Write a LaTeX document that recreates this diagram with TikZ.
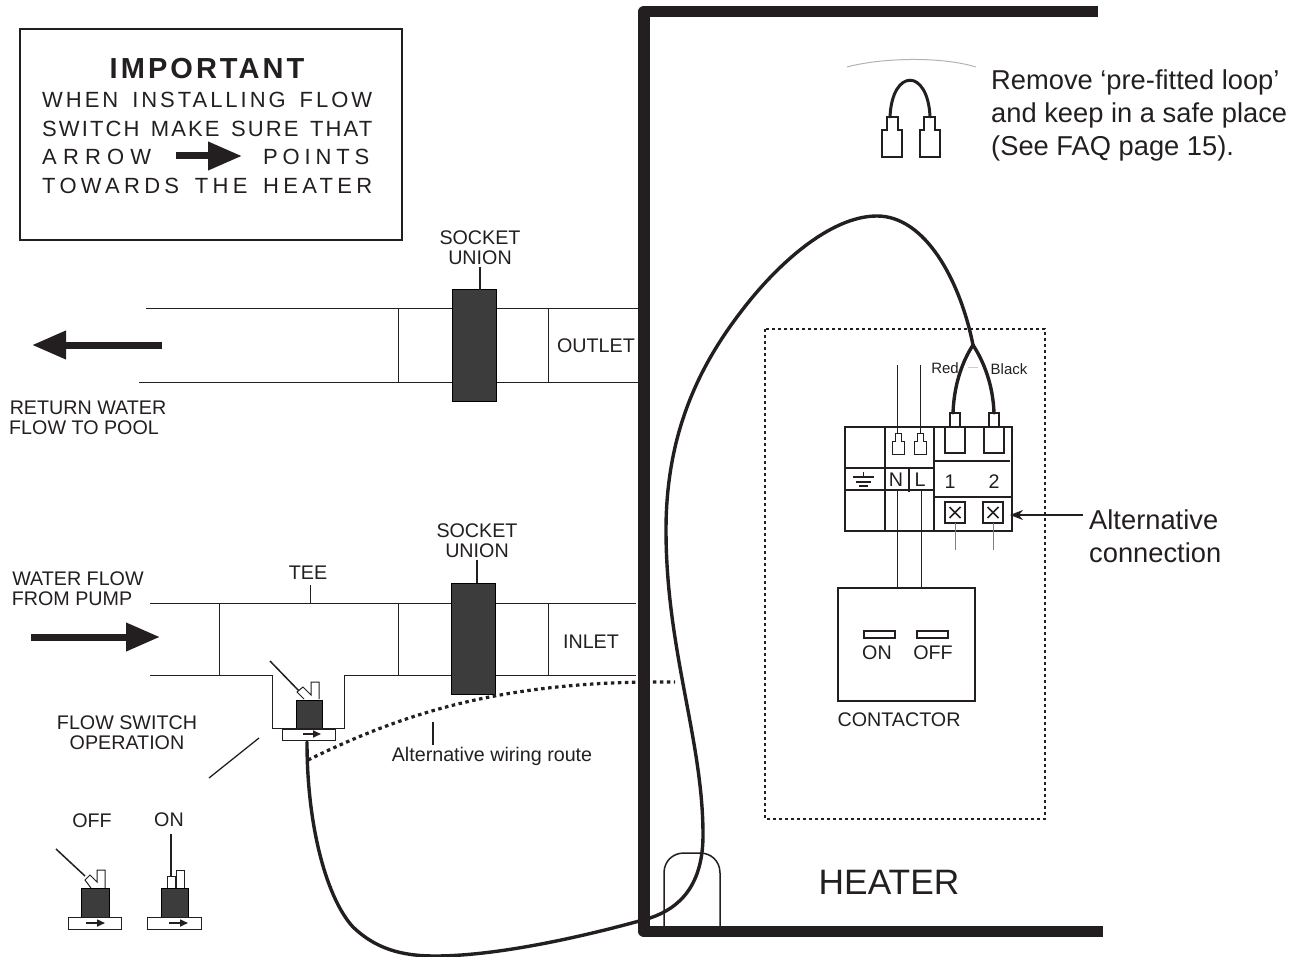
\documentclass[tikz,border=0pt]{standalone}
\usepackage{fontspec}
\setmainfont{Liberation Sans}
\newfontfamily\boldspaced[LetterSpace=10.5]{Liberation Sans Bold}
\usetikzlibrary{arrows.meta}
\definecolor{darkblock}{HTML}{3C3C3C}
\definecolor{inktext}{HTML}{231F20}
\tikzset{
    thinline/.style={draw=inktext, line width=1pt},
    boxline/.style={draw=inktext, line width=2pt},
    wallline/.style={draw=inktext, line width=11.5pt},
    wireline/.style={draw=inktext, line width=3.4pt, line cap=round},
    altwire/.style={draw=inktext, line width=3.2pt, dash pattern=on 3.5pt off 3.5pt},
    bigarrow/.style={draw=inktext, line width=7pt, -{Triangle[length=34pt,width=27pt]}},
    tinyarrow/.style={draw=inktext, line width=1.6pt, -{Triangle[length=8pt,width=7pt]}},
    dark/.style={fill=darkblock, draw=black, line width=1pt},
    label/.style={font=\fontsize{19.7}{20}\selectfont, text=inktext, inner sep=0pt, align=center, yshift=-0.7pt},
    smalllabel/.style={font=\fontsize{15}{16}\selectfont, text=inktext, inner sep=0pt},
    biglabel/.style={font=\fontsize{27.3}{33}\selectfont, text=inktext, inner sep=0pt, align=left, anchor=west, yshift=-0.7pt},
    noticeline/.style={font=\fontsize{22}{24}\selectfont, text=inktext, inner sep=0pt, anchor=west},
}
\begin{document}
\begin{tikzpicture}[x=1pt, y=-1pt]
\useasboundingbox (0,0) rectangle (1300,957);

% Draw notice box
\draw[boxline] (20,29) rectangle (402,240);
\node[font=\fontsize{29}{30}\boldspaced, text=inktext, inner sep=0pt] (important) at (207,69) {IMPORTANT};
\foreach \i/\y/\ls/\txt in {1/100/13.5/WHEN INSTALLING FLOW, 2/129/9.5/SWITCH MAKE SURE THAT, 4/186/19.5/TOWARDS THE HEATER} {
    \node[noticeline] (notice\i) at (42,\y) {\addfontfeature{LetterSpace=\ls}\makebox[330pt][s]{\txt}};
}
\node[noticeline] (arrowword) at (42,157) {\addfontfeature{LetterSpace=28}ARROW};
\node[noticeline] (pointsword) at (263,157) {\addfontfeature{LetterSpace=22}POINTS};
\coordinate (noticefrom) at (176,156);
\coordinate (noticeto) at (242,156);
\draw[bigarrow] (noticefrom) -- (noticeto);

% Draw outlet pipe
\draw[thinline] (146,309) -- (640,309);
\draw[thinline] (139,382) -- (640,382);
\foreach \x in {398,548} {
    \draw[thinline] (\x,309) -- (\x,382);
}
\draw[dark] (452,290) rectangle (496,401);
\draw[thinline, line width=1.5pt] (480,267) -- (480,290);
\node[label] (socketa) at (480,247) {SOCKET\\UNION};
\node[label] (outlet) at (596,345) {OUTLET};
\draw[bigarrow] (162,345) -- (32,345);
\node[label] (returnb) at (88,407) {RETURN WATER};
\node[label] (returnc) at (84,427) {FLOW TO POOL};

% Draw inlet pipe and tee
\draw[thinline] (150,603) -- (636,603);
\draw[thinline] (150,675) -- (272,675) -- (272,728) -- (344,728) -- (344,675) -- (636,675);
\foreach \x in {219,398,548} {
    \draw[thinline] (\x,603) -- (\x,675);
}
\draw[dark] (451,583) rectangle (495,694);
\draw[thinline, line width=1.5pt] (477,560) -- (477,583);
\draw[thinline] (310,585) -- (310,603);
\node[label] (socketb) at (477,540.5) {SOCKET\\UNION};
\node[label] (inlet) at (591,641) {INLET};
\node[label] (tee) at (308,572) {TEE};
\node[label] (watera) at (78,578) {WATER FLOW};
\node[label] (waterb) at (72,598) {FROM PUMP};
\draw[bigarrow] (31,637) -- (160,637);

% Draw flow switch in the tee
\draw[thinline, line width=1.5pt] (270,661) -- (300,692);
\draw[thinline, fill=white] (304,699) -- (297,692) -- (303,687) -- (311,695) -- (311,682) -- (319,682) -- (319,699);
\draw[dark] (296,700) rectangle (322,729);
\draw[thinline, fill=white] (282,729) rectangle (335,740);
\draw[line width=2pt, inktext] (282,729) -- (335,729);
\draw[tinyarrow] (303,734) -- (321,734);
\node[label] (switchop) at (127,732) {FLOW SWITCH\\OPERATION};
\draw[thinline, line width=1.3pt] (259,738) -- (209,778);

% Draw the OFF position
\node[label] (offword) at (92,820) {OFF};
\draw[thinline, line width=1.5pt] (56,849) -- (85,876);
\draw[thinline, fill=white] (91,888) -- (85,880) -- (90,875) -- (97,882) -- (97,870) -- (105,870) -- (105,888);
\draw[dark] (81,888) rectangle (109,917);
\draw[thinline, fill=white] (68,917) rectangle (121,929);
\draw[tinyarrow] (86,923) -- (105,923);

% Draw the ON position
\node[label] (onword) at (169,819) {ON};
\draw[thinline, fill=white] (167,876) rectangle (175,888);
\draw[thinline, fill=white] (176,870) rectangle (184,888);
\draw[thinline, line width=1.5pt] (171,834) -- (171,876);
\draw[dark] (161,888) rectangle (188,917);
\draw[thinline, fill=white] (147,917) rectangle (201,929);
\draw[tinyarrow] (169,923) -- (188,923);

% Draw heater wall
\draw[wallline, line join=round] (1098,11.5) -- (644,11.5) -- (644,931.5) -- (1103,931.5);
\node[font=\fontsize{35.3}{36}\selectfont, text=inktext, inner sep=0pt] (heater) at (889,882) {HEATER};
\draw[thinline, line width=1.5pt] (664,926) -- (664,873) .. controls (664,861) and (673,853) .. (684,853) -- (700,853) .. controls (711,853) and (720,861) .. (720,873) -- (720,926);

% Draw the loop
\draw[gray!60, line width=1pt] (847,67) .. controls (880,58) and (940,56) .. (976,67);
\draw[wireline, line width=3pt] (890,117) .. controls (892,68) and (928,68) .. (930,117);
\foreach \x in {892,929.5} {
    \draw[thinline, line width=2pt] (\x-10,157) -- (\x-10,130) -- (\x-5.5,130) -- (\x-5.5,117) -- (\x+5.5,117) -- (\x+5.5,130) -- (\x+10,130) -- (\x+10,157) -- cycle;
}
\node[biglabel] (removenote) at (991,115) {Remove ‘pre-fitted loop’\\and keep in a safe place\\(See FAQ page 15).};

% Draw dotted panel and contactor
\draw[inktext, line width=1.6pt, dash pattern=on 3pt off 3pt] (765,329) rectangle (1045,819);
\draw[boxline] (838,588) rectangle (975,701);
\foreach \x in {864,917} {
    \draw[thinline, line width=1.5pt] (\x,631) rectangle (\x+31,638);
}
\node[label] (onb) at (877,652) {ON};
\node[label] (offb) at (933,652) {OFF};
\node[label] (contactor) at (899,719) {CONTACTOR};

% Draw terminal block
\draw[boxline] (845,427) rectangle (1012,531);
\draw[boxline] (885,427) -- (885,531);
\draw[boxline] (934,427) -- (934,531);
\draw[boxline] (845,468) -- (934,468);
\draw[boxline] (845,490) -- (934,490);
\draw[boxline] (909,468) -- (909,492);
\draw[boxline] (934,461) -- (1010,461);
\draw[boxline] (934,497) -- (1012,497);
\draw[thinline] (897,490) -- (897,588);
\draw[thinline] (921,490) -- (921,588);
\draw[thinline] (897,365) -- (897,433);
\draw[thinline] (920,365) -- (920,433);
\foreach \x in {898,920} {
    \draw[thinline] (\x-6,454) -- (\x-6,441) -- (\x-3,441) -- (\x-3,433) -- (\x+3,433) -- (\x+3,441) -- (\x+6,441) -- (\x+6,454) -- cycle;
}
\foreach \x in {955,994} {
    \draw[boxline] (\x-10,427) rectangle (\x+10,453);
    \draw[boxline] (\x-5,413) rectangle (\x+5,427);
}
\foreach \x in {955,993} {
    \draw[boxline, fill=white] (\x-10,502) rectangle (\x+10,523);
    \draw[thinline, line width=1.5pt] (\x-5.5,507) -- (\x+5.5,518);
    \draw[thinline, line width=1.5pt] (\x-5.5,518) -- (\x+5.5,507);
    \draw[thinline, gray] (\x,523) -- (\x,550);
}
\foreach \y/\x/\w in {477/863.5/10.5, 482/863.5/7.5, 486/863.5/4.5} {
    \draw[thinline, line width=1.5pt] (\x-\w,\y) -- (\x+\w,\y);
}
\draw[thinline, line width=1.5pt] (863.5,472) -- (863.5,477);
\node[label] (nword) at (896,479) {N};
\node[label] (lword) at (920,479) {L};
\node[label] (oneword) at (950,481) {1};
\node[label] (twoword) at (994,481) {2};
\node[smalllabel] (redword) at (945,368) {Red};
\node[smalllabel] (blackword) at (1009,369) {Black};
\draw[gray!40, line width=0.6pt] (968,367) -- (978,367);

% Draw alternative connection arrow
\coordinate (altfrom) at (1083,515);
\draw[inktext, line width=1.6pt, -{Stealth[length=13pt,width=10pt]}] (altfrom) -- (1010,515);
\node[biglabel] (altnote) at (1089,535.5) {Alternative\\connection};

% Draw wires
\draw[altwire] (308,760) .. controls (400,715) and (500,680) .. (675,682);
\draw[thinline, line width=1.3pt] (433,722) -- (433,745);
\node[label] (altroute) at (492,756) {Alternative wiring route};
\draw[wireline] (973,345) .. controls (962,362) and (954,385) .. (953,413);
\draw[wireline] (973,345) .. controls (984,362) and (993,385) .. (994,413);
\draw[wireline] (973,345) .. controls (960,280) and (925,216) .. (877,216)
    .. controls (830,216) and (776,265) .. (740,313)
    .. controls (698,368) and (666,435) .. (666,530)
    .. controls (666,650) and (703,740) .. (703,835)
    .. controls (703,885) and (680,908) .. (650,918)
    .. controls (590,935) and (500,956) .. (435,956)
    .. controls (400,956) and (375,948) .. (353,927)
    .. controls (328,900) and (307,830) .. (307,742);

\end{tikzpicture}
\end{document}
